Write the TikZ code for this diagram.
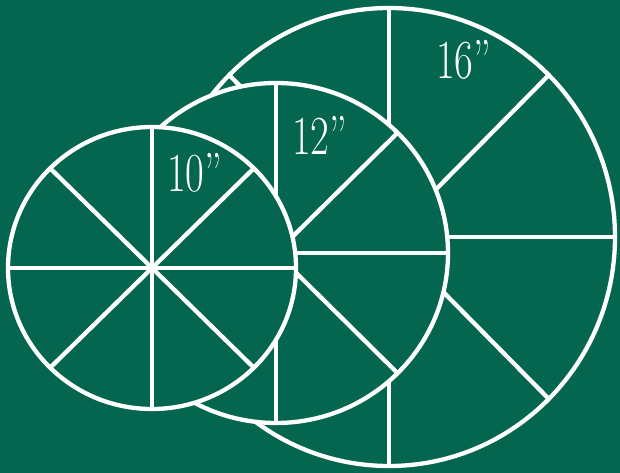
\documentclass[tikz,border=0pt]{standalone}
\usepackage{graphicx}
\usepackage{fontspec}
\definecolor{bg}{RGB}{5,102,79}
\begin{document}
\begin{tikzpicture}[x=1pt,y=-1pt,line width=4.3pt,
  pie/.style={draw=white,fill=bg},
  cut/.style={draw=white},
  lbl/.style={text=white,anchor=base west,inner sep=0pt,font=\fontsize{55}{55}\selectfont}]
\fill[bg] (0,0) rectangle (620,473);
\useasboundingbox (0,0) rectangle (620,473);
% 16 inch
\coordinate (c16) at (389,237);
\draw[pie] (c16) ellipse [x radius=226, y radius=229];
\foreach \a in {0,45,...,315} \draw[cut] (c16) -- ++(\a:226 and 229);
% 12 inch
\coordinate (c12) at (276,253);
\draw[pie] (c12) ellipse [x radius=172, y radius=170];
\foreach \a in {0,45,...,315} \draw[cut] (c12) -- ++(\a:172 and 170);
% 10 inch
\coordinate (c10) at (152,268);
\draw[pie] (c10) ellipse [x radius=144, y radius=141];
\foreach \a in {0,45,...,315} \draw[cut] (c10) -- ++(\a:144 and 141);
% labels
\node[lbl] (t16) at (434,79) {\scalebox{0.74}[1]{16''}};
\node[lbl] (t12) at (290,154) {\scalebox{0.74}[1]{12''}};
\node[lbl] (t10) at (165,191) {\scalebox{0.74}[1]{10''}};
\end{tikzpicture}
\end{document}
